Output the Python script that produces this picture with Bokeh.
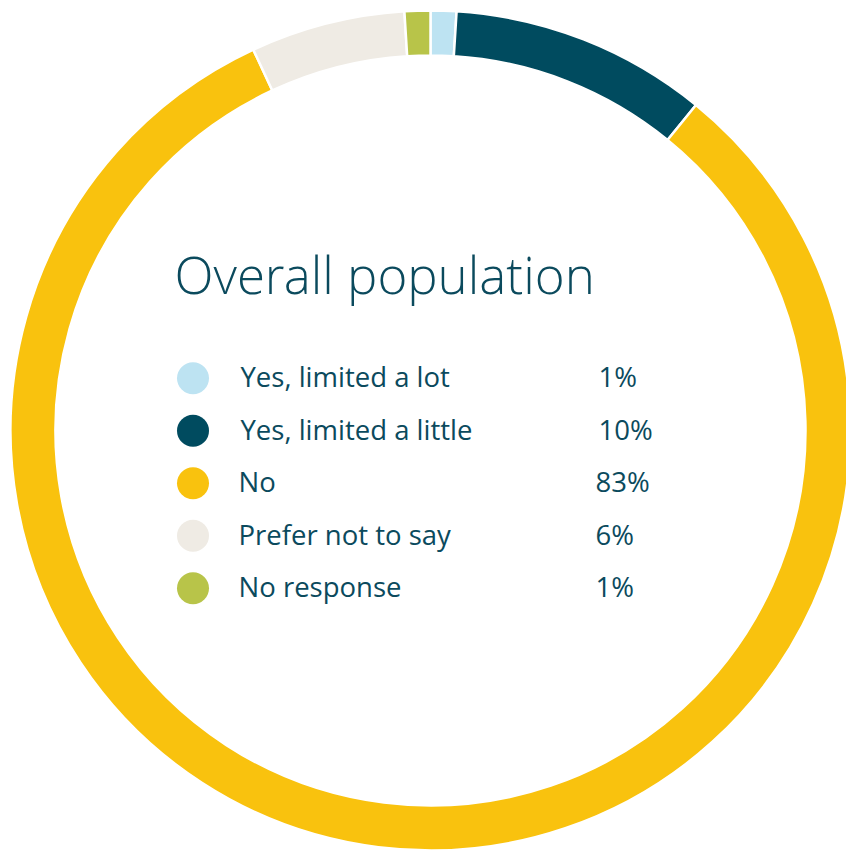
import math
from bokeh.plotting import figure
from bokeh.models import Range1d, ColumnDataSource
from bokeh.core.properties import value
from bokeh.embed import file_html
from bokeh.resources import INLINE

# ---- data ----
categories = ["Yes, limited a lot", "Yes, limited a little", "No", "Prefer not to say", "No response"]
percents = [1, 10, 83, 6, 1]
pct_labels = ["1%", "10%", "83%", "6%", "1%"]
colors = ["#BDE3F2", "#004B5F", "#F9C20E", "#EFEBE4", "#B8C449"]
title_text = "Overall population"

TEXT = "#0B4A5D"
FONT = "Open Sans"

W, H = 846, 853
p = figure(width=W, height=H, output_backend="svg", toolbar_location=None,
           x_range=Range1d(0, W), y_range=Range1d(-H, 0),
           min_border=0, outline_line_color=None)
p.axis.visible = False
p.grid.visible = False
p.background_fill_color = "white"
p.border_fill_color = "white"

# donut geometry (pixel coords, y negated)
cx, cy = 430, -430
r_out, r_in = 420, 375

total = float(sum(percents))
starts, ends = [], []
cum = 0.0
for v in percents:
    starts.append(math.pi / 2 - 2 * math.pi * cum / total)
    cum += v
    ends.append(math.pi / 2 - 2 * math.pi * cum / total)

src = ColumnDataSource(dict(start=starts, end=ends, color=colors))
p.annular_wedge(x=cx, y=cy, inner_radius=r_in, outer_radius=r_out,
                start_angle="start", end_angle="end", direction="clock",
                fill_color="color", line_color="white", line_width=2.5,
                source=src)

# title
p.text(x=[174], y=[-273], text=[title_text], text_font=value("'Open Sans Light', 'Open Sans'"),
       text_font_size="51px", text_color=TEXT, text_baseline="alphabetic")

# legend
n = len(categories)
row_y = [-(377.7 + 52.5 * i) for i in range(n)]
label_x = [240 if i < 2 else 238 for i in range(n)]
pct_x = [598 if i < 2 else 595 for i in range(n)]
p.scatter(x=[192.5] * n, y=row_y, size=32, marker="circle",
          fill_color=colors, line_color=None)
p.text(x=label_x, y=[y + 1.5 for y in row_y], text=categories, text_font=value(FONT),
       text_font_size="27.5px", text_color=TEXT, text_baseline="alphabetic")
p.text(x=pct_x, y=[y + 1.5 for y in row_y], text=pct_labels, text_font=value(FONT),
       text_font_size="27.5px", text_color=TEXT, text_baseline="alphabetic")

open("out.html", "w").write(file_html(p, INLINE))
